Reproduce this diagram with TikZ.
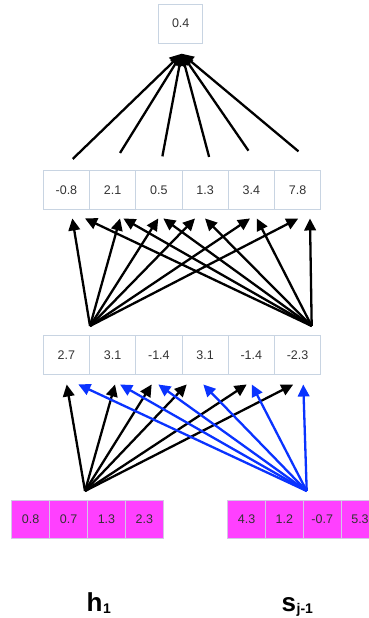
\documentclass[tikz,border=0pt]{standalone}
\usepackage{fontspec}
\setmainfont{Liberation Sans}
\usetikzlibrary{arrows.meta,calc}
\definecolor{cellborder}{HTML}{C8D4E2}
\definecolor{celltext}{HTML}{333333}
\definecolor{magentafill}{HTML}{FF40FF}
\definecolor{mborder}{HTML}{D2C8E6}
\definecolor{arrowblue}{HTML}{0A33FF}
\begin{document}
\begin{tikzpicture}[x=1pt,y=-1pt,
 cell/.style={draw=cellborder,line width=0.8pt,minimum width=46.2pt,minimum height=39.3pt,inner sep=0pt,text=celltext,font=\fontsize{12.5}{14}\selectfont},
 mcell/.style={cell,draw=mborder,fill=magentafill,minimum width=37.9pt,minimum height=37.6pt},
 arr/.style={line width=2.3pt,-{Triangle[length=12pt,width=11.5pt]}},
 barr/.style={arr,draw=arrowblue,fill=arrowblue},
 lbl/.style={font=\fontsize{26}{30}\selectfont\bfseries,inner sep=0pt,anchor=base west}]

\useasboundingbox (0,0) rectangle (369,618);
\clip (0,0) rectangle (369,618);

% output node
\node[cell,minimum width=44pt,minimum height=39pt] (out) at (180.7,23.5) {0.4};

% second row
\foreach \v [count=\i] in {-0.8,2.1,0.5,1.3,3.4,7.8}
  \node[cell] (a\i) at ({43.3+46.23*(\i-0.5)},189.7) {\v};

% third row
\foreach \v [count=\i] in {2.7,3.1,-1.4,3.1,-1.4,-2.3}
  \node[cell] (b\i) at ({43.3+46.23*(\i-0.5)},354.7) {\v};

% input rows
\foreach \v [count=\i] in {0.8,0.7,1.3,2.3}
  \node[mcell] (h\i) at ({11.7+37.9*(\i-0.5)},519.5) {\v};
\foreach \v [count=\i] in {4.3,1.2,-0.7,5.3}
  \node[mcell] (s\i) at ({227.7+37.8*(\i-0.5)},519.5) {\v};

% fan sources
\coordinate (bl) at (90,326);
\coordinate (br) at (311.7,326);
\coordinate (cl) at (85,491);
\coordinate (cr) at (306.7,491);

% top arrows
\foreach \i/\dx/\dy in {1/6.3/-10.7,2/7.4/-16.7,3/3.5/-13.3,4/4/-12.7,5/-2.9/-19,6/0.9/-18.3}
  \draw[arr] ($(a\i.north)+(\dx,\dy)$) -- ($(out.south)+(1,10.3)$);

% middle arrows
\foreach \i/\dx in {1/5.9,2/7.4,3/-0.6,4/-10.1,5/-1.3,6/0.7}
  \draw[arr] (bl) -- ($(a\i.south)+(\dx,8.7)$);
\foreach \i/\dx in {1/18.6,2/10.7,3/4.4,4/-0.1,5/5.4,6/12.4}
  \draw[arr] (br) -- ($(a\i.south)+(\dx,8.7)$);

% bottom arrows
\foreach \i/\dx in {1/0.3,2/2.4,3/-7.2,4/-18.4,5/-4.6,6/-4.3}
  \draw[arr] (cl) -- ($(b\i.south)+(\dx,9.7)$);
\foreach \i/\dx in {1/11.9,2/7.4,3/-0.6,4/-1.8,5/0.4,6/5.7}
  \draw[barr] (cr) -- ($(b\i.south)+(\dx,9.7)$);

% labels
\node[lbl] (hlab) at (86.5,611.5) {h\kern0.5pt\raisebox{-2pt}{\fontsize{14}{14}\selectfont 1}};
\node[lbl] (slab) at (281.5,611.5) {s\kern0.5pt\raisebox{-2pt}{\fontsize{14}{14}\selectfont j-1}};
\end{tikzpicture}
\end{document}
